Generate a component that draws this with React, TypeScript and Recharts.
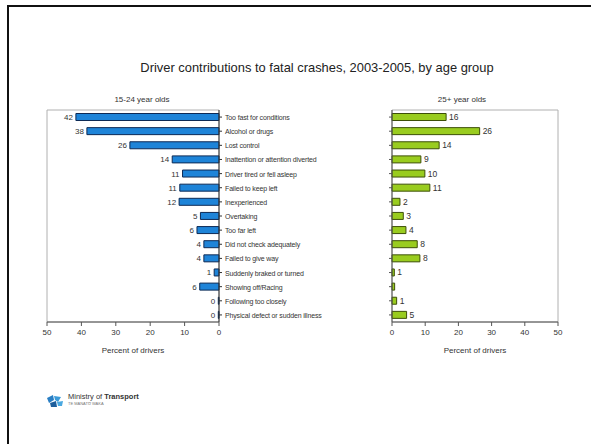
import React from 'react';
import { BarChart, Bar, XAxis, YAxis, ReferenceArea, LabelList } from 'recharts';

const categories = [
  'Too fast for conditions',
  'Alcohol or drugs',
  'Lost control',
  'Inattention or attention diverted',
  'Driver tired or fell asleep',
  'Failed to keep left',
  'Inexperienced',
  'Overtaking',
  'Too far left',
  'Did not check adequately',
  'Failed to give way',
  'Suddenly braked or turned',
  'Showing off/Racing',
  'Following too closely',
  'Physical defect or sudden illness',
];

const youngValues = [41.6, 38.4, 25.9, 13.6, 10.6, 11.4, 11.6, 5.4, 6.4, 4.4, 4.4, 1.4, 5.6, 0.2, 0.2];
const youngLabels = ['42', '38', '26', '14', '11', '11', '12', '5', '6', '4', '4', '1', '6', '0', '0'];
const olderValues = [16.3, 26.4, 14.2, 8.7, 9.9, 11.4, 2.4, 3.4, 4.2, 7.6, 8.4, 0.7, 0.8, 1.4, 4.4];
const olderLabels = ['16', '26', '14', '9', '10', '11', '2', '3', '4', '8', '8', '1', '', '1', '5'];
const xTicks = [0, 10, 20, 30, 40, 50];

const youngData = categories.map((c, i) => ({ category: c, value: youngValues[i], label: youngLabels[i] }));
const olderData = categories.map((c, i) => ({ category: c, value: olderValues[i], label: olderLabels[i] }));

const FONT = '"Liberation Sans", Arial, sans-serif';

const LeftLabel = (props: any) => {
  const { x, y, width, height, index } = props;
  const left = Math.min(x, x + width);
  return (
    <text x={left - 3} y={y + height / 2} dy={3} textAnchor="end" fontSize={8} fill="#333" fontFamily={FONT}>
      {youngLabels[index]}
    </text>
  );
};

const RightLabel = (props: any) => {
  const { x, y, width, height, index } = props;
  const right = Math.max(x, x + width);
  return (
    <text x={right + 3} y={y + height / 2} dy={3} textAnchor="start" fontSize={8.5} fill="#333" fontFamily={FONT}>
      {olderLabels[index]}
    </text>
  );
};

const CatTick = (props: any) => {
  const { x, y, payload } = props;
  return (
    <text x={x + 1} y={y} dy={3} textAnchor="start" fontSize={7} letterSpacing={-0.15} fill="#333" fontFamily={FONT}>
      {payload.value}
    </text>
  );
};

const NoTick = () => <g />;

export default function App() {
  return (
    <div style={{ position: 'absolute', left: 0, top: 0, width: 591, height: 444, overflow: 'hidden', background: '#fff', fontFamily: FONT }}>
      <div style={{ position: 'absolute', left: 7, top: 5, width: 620, height: 470, border: '2px solid #111' }} />
      <div style={{ position: 'absolute', left: 0, top: 60, width: 634, textAlign: 'center', fontSize: 12.9, color: '#222', whiteSpace: 'nowrap' }}>
        Driver contributions to fatal crashes, 2003-2005, by age group
      </div>
      <div style={{ position: 'absolute', left: 92, top: 95, width: 100, textAlign: 'center', fontSize: 8, color: '#333' }}>
        15-24 year olds
      </div>
      <div style={{ position: 'absolute', left: 412, top: 95, width: 100, textAlign: 'center', fontSize: 8, color: '#333' }}>
        25+ year olds
      </div>

      <div style={{ position: 'absolute', left: 0, top: 0 }}>
        <BarChart
          width={391}
          height={444}
          data={youngData}
          layout="vertical"
          margin={{ top: 110, right: 0, left: 47, bottom: 82 }}
          barCategoryGap={3.5}
        >
          <ReferenceArea x1={0} x2={50} fill="none" stroke="#b0b0b0" strokeWidth={1} ifOverflow="visible" />
          <XAxis
            type="number"
            domain={[0, 50]}
            ticks={xTicks}
            reversed
            height={40}
            tickSize={4}
            tickMargin={3}
            stroke="#555"
            tick={{ fontSize: 8, fill: '#333', fontFamily: FONT }}
            label={{ value: 'Percent of drivers', position: 'insideBottom', offset: 9, fontSize: 8, fill: '#333', fontFamily: FONT }}
          />
          <YAxis
            type="category"
            dataKey="category"
            orientation="right"
            width={172}
            stroke="#333"
            tickSize={3}
            tick={<CatTick />}
            interval={0}
          />
          <Bar dataKey="value" fill="#1e84d8" stroke="#0d2a55" strokeWidth={1} isAnimationActive={false}>
            <LabelList dataKey="label" content={<LeftLabel />} />
          </Bar>
        </BarChart>
      </div>

      <div style={{ position: 'absolute', left: 380, top: 0 }}>
        <BarChart
          width={211}
          height={444}
          data={olderData}
          layout="vertical"
          margin={{ top: 110, right: 33, left: 0, bottom: 82 }}
          barCategoryGap={3.5}
        >
          <ReferenceArea x1={0} x2={50} fill="none" stroke="#b0b0b0" strokeWidth={1} ifOverflow="visible" />
          <XAxis
            type="number"
            domain={[0, 50]}
            ticks={xTicks}
            height={40}
            tickSize={4}
            tickMargin={3}
            stroke="#555"
            tick={{ fontSize: 8, fill: '#333', fontFamily: FONT }}
            label={{ value: 'Percent of drivers', position: 'insideBottom', offset: 9, fontSize: 8, fill: '#333', fontFamily: FONT }}
          />
          <YAxis
            type="category"
            dataKey="category"
            orientation="left"
            width={12}
            stroke="#555"
            tickSize={3}
            tick={<NoTick />}
            interval={0}
          />
          <Bar dataKey="value" fill="#99cc1f" stroke="#3d4f08" strokeWidth={1} isAnimationActive={false}>
            <LabelList dataKey="label" content={<RightLabel />} />
          </Bar>
        </BarChart>
      </div>

      <div style={{ position: 'absolute', left: 45, top: 394 }}>
        <svg width={20} height={14}>
          <polygon points="2,4 8,1 9,6 4,9" fill="#2a7fc4" />
          <polygon points="9,2 16,3 13,8 10,6" fill="#3a9ad8" />
          <polygon points="5,9 11,7 12,13 6,13" fill="#1d5e9c" />
          <polygon points="12,8 18,7 17,12 13,12" fill="#4aa8e0" />
        </svg>
      </div>
      <div style={{ position: 'absolute', left: 68, top: 392, fontSize: 7.5, color: '#333', whiteSpace: 'nowrap' }}>
        Ministry of <b>Transport</b>
      </div>
      <div style={{ position: 'absolute', left: 68, top: 401, fontSize: 4, color: '#777', whiteSpace: 'nowrap' }}>
        TE MANATŪ WAKA
      </div>
    </div>
  );
}
